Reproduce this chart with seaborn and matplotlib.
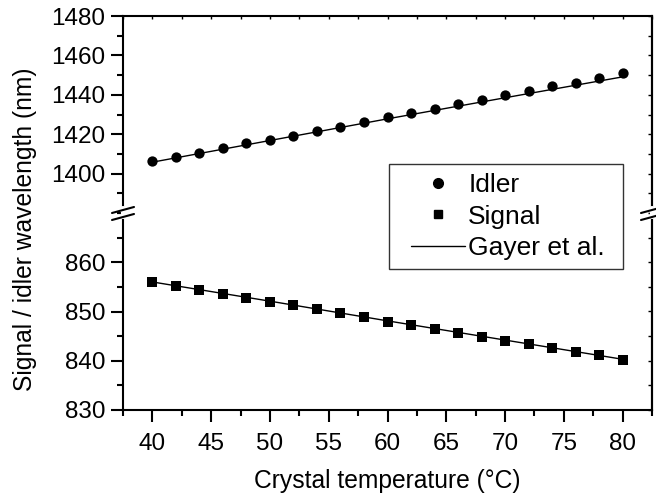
import matplotlib
matplotlib.use("Agg")
import matplotlib.pyplot as plt
from matplotlib.lines import Line2D
from matplotlib.legend_handler import HandlerLine2D
from matplotlib.ticker import MultipleLocator
import seaborn as sns
import pandas as pd

# Measured tuning data
temperature = [40, 42, 44, 46, 48, 50, 52, 54, 56, 58, 60,
               62, 64, 66, 68, 70, 72, 74, 76, 78, 80]
idler_nm = [1406.3, 1408.5, 1410.7, 1412.9, 1415.3, 1417.3, 1419.2, 1421.5,
            1423.8, 1426.1, 1428.8, 1430.7, 1432.7, 1435.2, 1437.6, 1439.8,
            1442.1, 1444.4, 1446.2, 1448.5, 1450.9]
signal_nm = [856.0, 855.2, 854.4, 853.6, 852.7, 852.0, 851.3, 850.5, 849.7,
             848.8, 847.9, 847.2, 846.4, 845.6, 844.8, 844.1, 843.3, 842.5,
             841.8, 841.1, 840.2]

# Sellmeier prediction (Gayer et al.)
model_temperature = [40, 50, 60, 70, 80]
model_idler_nm = [1405.8, 1416.8, 1427.8, 1438.5, 1449.1]
model_signal_nm = [856.0, 852.1, 848.1, 844.2, 840.3]

data = pd.DataFrame({"T": temperature, "idler": idler_nm, "signal": signal_nm})
model = pd.DataFrame({"T": model_temperature, "idler": model_idler_nm,
                      "signal": model_signal_nm})

sns.set_theme(style="ticks")
plt.rcParams["font.family"] = ["Liberation Sans", "DejaVu Sans"]
for key in ("text.color", "axes.labelcolor", "xtick.color", "ytick.color",
            "axes.edgecolor"):
    plt.rcParams[key] = "black"
FS = 17.5

W, H = 656, 499
fig = plt.figure(figsize=(W / 100, H / 100), dpi=100)
x0, x1 = 123, 652
y_top, y_brk, y_bot = 16, 213, 410
ax_t = fig.add_axes([x0 / W, 1 - y_brk / H, (x1 - x0) / W, (y_brk - y_top) / H])
ax_b = fig.add_axes([x0 / W, 1 - y_bot / H, (x1 - x0) / W, (y_bot - y_brk) / H])

lw_spine = 1.5
MAJ, MIN = 8.6, 4.3
for ax in (ax_t, ax_b):
    for s in ax.spines.values():
        s.set_linewidth(lw_spine)
        s.set_color("black")
    ax.set_xlim(37.5, 82.5)
    ax.xaxis.set_major_locator(MultipleLocator(5))
    ax.xaxis.set_minor_locator(MultipleLocator(2.5))
    ax.set_facecolor("white")

ax_t.spines["bottom"].set_visible(False)
ax_b.spines["top"].set_visible(False)

# top panel: idler
sns.lineplot(data=model, x="T", y="idler", ax=ax_t, color="black", lw=1.0)
sns.scatterplot(data=data, x="T", y="idler", ax=ax_t, color="black",
                marker="o", s=55, edgecolor="black", linewidth=0, zorder=3)
ax_t.set_ylim(1380, 1480)
ax_t.set_yticks([1400, 1420, 1440, 1460, 1480])
ax_t.yaxis.set_minor_locator(MultipleLocator(10))
ax_t.set_xlabel("")
ax_t.set_ylabel("")
ax_t.tick_params(axis="x", which="both", bottom=False, labelbottom=False,
                 top=True, direction="in", length=2, width=1)
ax_t.tick_params(axis="y", which="major", length=MAJ, width=1.5,
                 labelsize=FS, pad=4)
ax_t.tick_params(axis="y", which="minor", length=MIN, width=1.5)
ax_t.tick_params(axis="y", which="both", direction="out", right=False)

# bottom panel: signal
sns.lineplot(data=model, x="T", y="signal", ax=ax_b, color="black", lw=1.0)
sns.scatterplot(data=data, x="T", y="signal", ax=ax_b, color="black",
                marker="s", s=45, edgecolor="black", linewidth=0, zorder=3)
ax_b.set_ylim(830, 870)
ax_b.set_yticks([830, 840, 850, 860])
ax_b.yaxis.set_minor_locator(MultipleLocator(5))
ax_b.set_xticks([40, 45, 50, 55, 60, 65, 70, 75, 80])
ax_b.set_xlabel("")
ax_b.set_ylabel("")
ax_b.tick_params(axis="x", which="major", direction="out", length=MAJ, width=1.5,
                 labelsize=FS, pad=8)
ax_b.tick_params(axis="x", which="minor", direction="out", length=MIN, width=1.5)
ax_b.tick_params(axis="y", which="major", length=MAJ, width=1.5, labelsize=FS, pad=4)
ax_b.tick_params(axis="y", which="minor", length=MIN, width=1.5)
ax_b.tick_params(axis="y", which="both", direction="out", right=False)

# right-hand ticks point inward
for ax in (ax_t, ax_b):
    sec = ax.secondary_yaxis("right")
    sec.set_yticks(ax.get_yticks())
    sec.yaxis.set_minor_locator(ax.yaxis.get_minor_locator())
    sec.tick_params(axis="y", which="both", direction="in", length=3, width=1,
                    labelright=False)
    sec.spines["right"].set_linewidth(lw_spine)
    for name in ("top", "bottom", "left"):
        sec.spines[name].set_visible(False)

# axis break markers on both sides
def fig_pt(px, py):
    return px / W, 1 - py / H

for xc in (x0, x1):
    fig.add_artist(Line2D([fig_pt(xc, 0)[0]] * 2,
                          [fig_pt(0, 208)[1], fig_pt(0, 217)[1]],
                          color="white", lw=3, zorder=10))
    for dy in (0, 7):
        xa, ya = fig_pt(xc - 11, 216 + dy - 3)
        xb, yb = fig_pt(xc + 11, 210 + dy - 3)
        fig.add_artist(Line2D([xa, xb], [ya, yb], color="black", lw=1.5, zorder=11))

fig.text(25 / W, 1 - 229 / H, "Signal / idler wavelength (nm)", rotation=90,
         ha="center", va="center", fontsize=17.7)
fig.text(387 / W, 1 - 481 / H, "Crystal temperature (°C)",
         ha="center", va="center", fontsize=17.7)

handles = [
    Line2D([], [], ls="none", marker="o", color="black", markersize=7),
    Line2D([], [], ls="none", marker="s", color="black", markersize=6),
    Line2D([], [], color="black", lw=1.0),
]
LFS = 19
handler = HandlerLine2D(xpad=0.5)
lx0, ly0 = fig_pt(389, 164.5)
lx1, _ = fig_pt(623, 164.5)
leg = fig.legend(handles, ["Idler", "Signal", "Gayer et al."],
                 loc="upper left", bbox_to_anchor=(lx0, ly0 - 0.3, lx1 - lx0, 0.3),
                 mode="expand", frameon=True, fancybox=False, edgecolor="black",
                 fontsize=LFS, handlelength=2.55, handletextpad=0.12,
                 labelspacing=0.28, borderpad=0.33, borderaxespad=0,
                 handler_map={Line2D: handler})
leg.get_frame().set_linewidth(1.0)

fig.savefig("out.png", dpi=100)
